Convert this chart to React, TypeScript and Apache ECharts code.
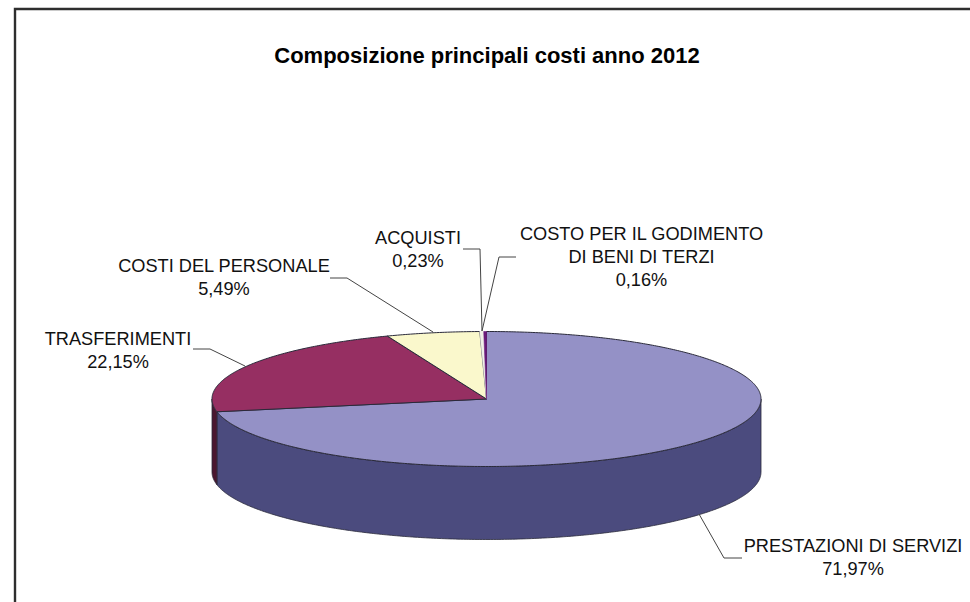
import React, { useEffect, useRef } from "react";
import * as echarts from "echarts";

const titleText = "Composizione principali costi anno 2012";
const categories = [
  "PRESTAZIONI DI SERVIZI",
  "TRASFERIMENTI",
  "COSTI DEL PERSONALE",
  "ACQUISTI",
  "COSTO PER IL GODIMENTO\nDI BENI DI TERZI",
];
const values = [71.97, 22.15, 5.49, 0.23, 0.16];
const topColors = ["#9491C6", "#962F62", "#FAF8CC", "#F0F0E8", "#6A1A7A"];
const sideColors = ["#4B4B7E", "#4A1730", "#7C7C66", "#777770", "#330533"];

const CX = 486.5;
const CY = 399;
const RX = 274.5;
const RY = 67.5;
const DEPTH = 73;
const FONT = "'Liberation Sans', Arial, sans-serif";
const OUTLINE = "#2A2A3A";

// label centre (x, first line y) and leader polyline, per slice
const labelX = [853, 118, 224, 418, 641.5];
const labelY = [534, 327, 254, 226, 222];
const leaders: number[][][] = [
  [[742, 558], [724, 558], [699, 514]],
  [[193, 349], [210, 349], [245, 366]],
  [[330, 278], [347, 278], [433, 332]],
  [[463, 249], [480, 249], [482, 331]],
  [[516, 257], [499, 257], [482, 331]],
];

const total = values.reduce((a, b) => a + b, 0);
const toRad = (v: number) => (v / total) * Math.PI * 2;
const rim = (t: number, dy = 0) => [CX + Math.sin(t) * RX, CY - Math.cos(t) * RY + dy];
const arc = (a: number, b: number, dy = 0) => {
  const n = Math.max(2, Math.ceil((b - a) / 0.01));
  const pts: number[][] = [];
  for (let i = 0; i <= n; i++) pts.push(rim(a + ((b - a) * i) / n, dy));
  return pts;
};

function renderSlice(params: any, api: any) {
  const i = params.dataIndex;
  const start = toRad(values.slice(0, i).reduce((a, b) => a + b, 0));
  const end = start + toRad(api.value(0));
  const children: any[] = [];

  // visible outer wall: the front half of the ellipse
  const a = Math.max(start, Math.PI / 2);
  const b = Math.min(end, (Math.PI * 3) / 2);
  if (b > a) {
    children.push({
      type: "polygon",
      shape: { points: [...arc(a, b), ...arc(a, b, DEPTH).reverse()] },
      style: { fill: sideColors[i], stroke: OUTLINE, lineWidth: 0.8 },
    });
  }
  // top face
  children.push({
    type: "polygon",
    shape: { points: [[CX, CY], ...arc(start, end)] },
    style: { fill: topColors[i], stroke: api.value(0) < 1 ? topColors[i] : OUTLINE, lineWidth: api.value(0) < 1 ? 0.6 : 1 },
  });
  // leader
  children.push({
    type: "polyline",
    shape: { points: leaders[i] },
    style: { fill: "none", stroke: "#444444", lineWidth: 1 },
    z2: 5,
  });
  // label
  children.push({
    type: "text",
    style: {
      x: labelX[i],
      y: labelY[i],
      text: categories[i] + "\n" + api.value(0).toFixed(2).replace(".", ",") + "%",
      fill: "#111111",
      font: `18.2px ${FONT}`,
      align: "center",
      verticalAlign: "top",
      lineHeight: 23,
    },
    z2: 6,
  });
  return { type: "group", children };
}

export default function App() {
  const ref = useRef<HTMLDivElement>(null);
  useEffect(() => {
    const chart = echarts.init(ref.current!, undefined, { renderer: "svg" });
    chart.setOption({
      animation: false,
      backgroundColor: "#FFFFFF",
      title: {
        text: titleText,
        left: 482,
        top: 39,
        textAlign: "center",
        textStyle: { fontFamily: FONT, fontSize: 22, fontWeight: "bold", color: "#000000" },
      },
      graphic: [
        {
          type: "polyline",
          shape: { points: [[15, 602], [15, 9], [970, 9]] },
          style: { fill: "none", stroke: "#2E2E2E", lineWidth: 2.4 },
        },
      ],
      series: [
        {
          type: "custom",
          coordinateSystem: "none",
          renderItem: renderSlice,
          data: values.map((v) => [v]),
          silent: true,
        },
      ],
    });
    return () => chart.dispose();
  }, []);
  return <div ref={ref} style={{ position: "absolute", left: 0, top: 0, width: 970, height: 602 }} />;
}
